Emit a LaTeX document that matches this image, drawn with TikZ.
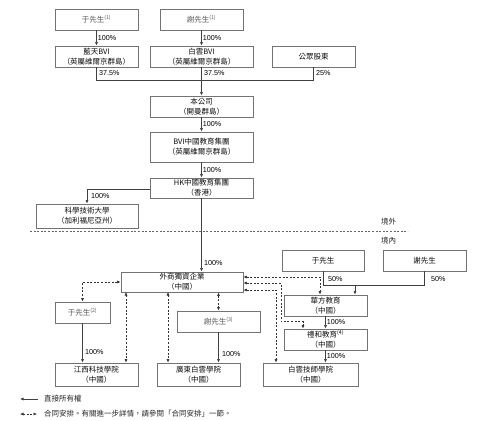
\documentclass[tikz,border=0pt]{standalone}
\usepackage{fontspec}
\setmainfont{Noto Sans CJK TC}
\newfontfamily\latinsans{Liberation Sans}
\usetikzlibrary{arrows.meta}
\tikzset{
  box/.style={draw=black!55, line width=0.8pt, fill=white, align=center, inner sep=1pt,
    font=\fontsize{7.5}{10}\selectfont, text=black!95},
  pbox/.style={box, text=black!65},
  arr/.style={draw=black!75, line width=0.6pt, -{Latex[length=3.5pt,width=3pt]}},
  lnk/.style={draw=black!75, line width=0.6pt},
  dsh/.style={draw=black!80, line width=0.6pt, dash pattern=on 2pt off 1.6pt,
    {Latex[length=3.5pt,width=3pt]}-{Latex[length=3.5pt,width=3pt]}},
  pct/.style={font=\latinsans\fontsize{7.2}{8}\selectfont, anchor=west, inner sep=1pt, text=black},
  lbl/.style={font=\fontsize{7.5}{9}\selectfont, anchor=west, inner sep=0pt, text=black!85}
}
\begin{document}
\begin{tikzpicture}[x=1pt,y=-1pt]
\useasboundingbox[fill=white] (0,0) rectangle (480,421);
% top level
\node[pbox, minimum width=83pt, minimum height=21pt] (yu1) at (96.5,19.5) {于先生\textsuperscript{(1)}};
\node[pbox, minimum width=83pt, minimum height=21pt] (xie1) at (201.5,19.5) {謝先生\textsuperscript{(1)}};
\node[box, minimum width=83pt, minimum height=21pt] (lantian) at (96.5,56.5) {藍天BVI\\（英屬維爾京群島）};
\node[box, minimum width=103pt, minimum height=21pt] (baiyun) at (201.5,56.5) {白雲BVI\\（英屬維爾京群島）};
\node[box, minimum width=83pt, minimum height=21pt] (public) at (313.5,56.5) {公眾股東};
\node[box, minimum width=103pt, minimum height=21pt] (company) at (201.5,106.5) {本公司\\（開曼群島）};
\node[box, minimum width=103pt, minimum height=30pt] (bvi) at (201.5,147) {BVI中國教育集團\\（英屬維爾京群島）};
\node[box, minimum width=103pt, minimum height=20pt] (hk) at (201.5,188) {HK中國教育集團\\（香港）};
\node[box, minimum width=102pt, minimum height=24pt] (kexue) at (87,216) {科學技術大學\\（加利福尼亞州）};
% onshore
\node[box, minimum width=122pt, minimum height=20pt] (wfoe) at (182,282) {外商獨資企業\\（中國）};
\node[box, minimum width=82pt, minimum height=21pt] (yu3) at (323,260.5) {于先生};
\node[box, minimum width=83pt, minimum height=21pt] (xie3) at (424.5,260.5) {謝先生};
\node[box, minimum width=83pt, minimum height=21pt] (huafang) at (325.5,305.5) {華方教育\\（中國）};
\node[box, minimum width=83pt, minimum height=21pt] (lihe) at (325.5,339.5) {禮和教育\textsuperscript{(4)}\\（中國）};
\node[box, minimum width=95pt, minimum height=23pt] (btech) at (310.5,374.5) {白雲技師學院\\（中國）};
\node[pbox, minimum width=55pt, minimum height=21pt] (yu2) at (82.5,312.5) {于先生\textsuperscript{(2)}};
\node[pbox, minimum width=83pt, minimum height=21pt] (xie2) at (218.5,321.5) {謝先生\textsuperscript{(3)}};
\node[box, minimum width=83pt, minimum height=23pt] (jiangxi) at (96.5,374.5) {江西科技學院\\（中國）};
\node[box, minimum width=83pt, minimum height=23pt] (guangdong) at (198.5,374.5) {廣東白雲學院\\（中國）};

% ownership top
\draw[arr] (yu1.south) -- node[pct] (p1) {100\%} (lantian.north);
\draw[arr] (xie1.south) -- node[pct] (p2) {100\%} (baiyun.north);
\coordinate (j1) at (96.5,80);
\coordinate (j2) at (313.5,80);
\draw[lnk] (lantian.south) -- (j1) -- (j2) -- (public.south);
\draw[arr] (baiyun.south) -- (company.north);
\node[pct] (p3) at (98,73) {37.5\%};
\node[pct] (p4) at (203,73) {37.5\%};
\node[pct] (p5) at (315,73) {25\%};
\draw[arr] (company.south) -- node[pct] (p6) {100\%} (bvi.north);
\draw[arr] (bvi.south) -- node[pct] (p7) {100\%} (hk.north);
\coordinate (j3) at (87,189);
\draw[arr] (hk.west |- j3) -- (j3) -- (kexue.north);
\node[pct] (p8) at (90,196) {100\%};
\draw[arr] (hk.south) -- (hk.south |- wfoe.north);
\node[pct] (p9) at (203,263) {100\%};

% border
\coordinate (b1) at (30,231);
\coordinate (b2) at (408,231);
\draw[draw=black!60, line width=0.6pt, dash pattern=on 2pt off 1.6pt] (b1) -- (b2);
\node[lbl] (outside) at (381,222) {境外};
\node[lbl] (inside) at (381,241) {境內};

% onshore ownership
\coordinate (j4) at (323,285);
\coordinate (j5) at (424.5,285);
\coordinate (j6) at (355,285);
\draw[lnk] (yu3.south) -- (j4) -- (j5) -- (xie3.south);
\draw[arr] (j6) -- (j6 |- huafang.north);
\node[pct] (p10) at (327,279) {50\%};
\node[pct] (p11) at (430,279) {50\%};
\draw[arr] (huafang.south) -- node[pct] (p12) {100\%} (lihe.north);
\draw[arr] (lihe.south) -- node[pct] (p13) {100\%} (lihe.south |- btech.north);
\draw[arr] (yu2.south) -- (yu2.south |- jiangxi.north);
\node[pct] (p14) at (84,352) {100\%};
\draw[arr] (xie2.south) -- (xie2.south |- guangdong.north);
\node[pct] (p15) at (221,354) {100\%};

% contractual arrangements
\coordinate (d1) at (82.5,282);
\draw[dsh] (wfoe.west) -- (d1) -- (yu2.north);
\coordinate (d2) at (126,292);
\draw[dsh] (d2) -- (d2 |- jiangxi.north);
\coordinate (d3) at (168,292);
\draw[dsh] (d3) -- (d3 |- guangdong.north);
\draw[dsh] (wfoe.south -| xie2.north) -- (xie2.north);
\coordinate (r1) at (320,277);
\draw[dsh] (wfoe.east |- r1) -- (r1) -- (r1 |- huafang.north);
\coordinate (r2) at (281,283);
\coordinate (r3) at (281,321.5);
\coordinate (r4) at (303,321.5);
\draw[dsh] (wfoe.east |- r2) -- (r2) -- (r3) -- (r4) -- (r4 |- lihe.north);
\coordinate (r5) at (276,290);
\draw[dsh] (wfoe.east |- r5) -- (r5) -- (r5 |- btech.north);

% legend
\coordinate (la) at (38,399);
\coordinate (lb) at (20,399);
\draw[arr] (la) -- (lb);
\node[lbl] (lt1) at (44,399) {直接所有權};
\coordinate (lc) at (20,414);
\coordinate (ld) at (37,414);
\draw[dsh] (lc) -- (ld);
\node[lbl] (lt2) at (44,414) {合同安排。有關進一步詳情，請參閱「合同安排」一節。};
\end{tikzpicture}
\end{document}
